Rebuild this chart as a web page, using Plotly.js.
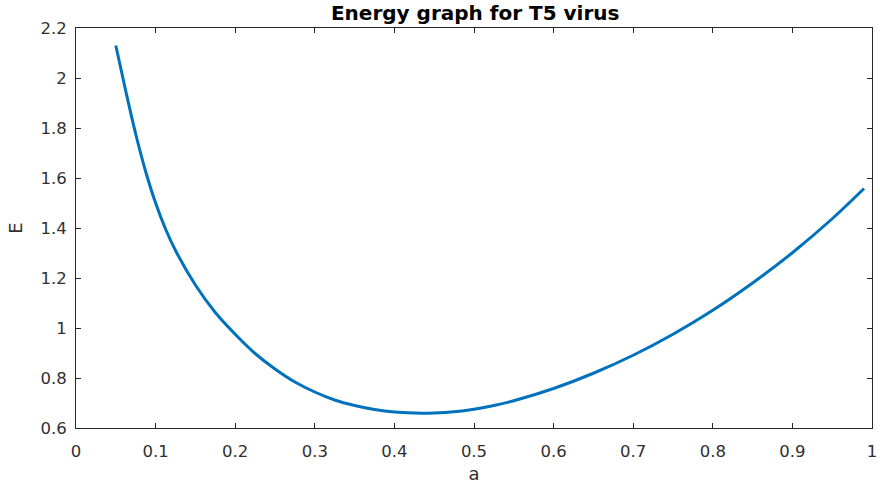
<!DOCTYPE html>
<html>
<head>
<meta charset="utf-8">
<script src="https://cdn.plot.ly/plotly-3.0.1.min.js"></script>
<style>html,body{margin:0;padding:0;background:#fff;}#chart{width:880px;height:488px;}</style>
</head>
<body>
<div id="chart"></div>
<script>
const aValues = [0.05, 0.0625, 0.075, 0.0875, 0.1, 0.1125, 0.125, 0.15, 0.175, 0.2, 0.225, 0.25, 0.275, 0.3, 0.325, 0.35, 0.375, 0.4, 0.435, 0.45, 0.475, 0.5, 0.525, 0.55, 0.6, 0.65, 0.7, 0.75, 0.8, 0.85, 0.9, 0.95, 0.99];
const eValues = [2.13, 1.948, 1.776, 1.626, 1.50, 1.396, 1.31, 1.172, 1.062, 0.975, 0.898, 0.836, 0.784, 0.744, 0.712, 0.690, 0.674, 0.664, 0.659, 0.660, 0.665, 0.675, 0.690, 0.709, 0.758, 0.819, 0.891, 0.975, 1.071, 1.18, 1.301, 1.437, 1.558];
const xTicks = [0, 0.1, 0.2, 0.3, 0.4, 0.5, 0.6, 0.7, 0.8, 0.9, 1];
const xTickLabels = ['0', '0.1', '0.2', '0.3', '0.4', '0.5', '0.6', '0.7', '0.8', '0.9', '1'];
const yTicks = [0.6, 0.8, 1, 1.2, 1.4, 1.6, 1.8, 2, 2.2];
const yTickLabels = ['0.6', '0.8', '1', '1.2', '1.4', '1.6', '1.8', '2', '2.2'];

const axisCommon = {
  showline: true, mirror: 'ticks', linecolor: '#262626', linewidth: 1,
  ticks: 'inside', ticklen: 5, tickcolor: '#262626', tickwidth: 1,
  showgrid: false, zeroline: false, tickmode: 'array',
  tickfont: {family: 'DejaVu Sans', size: 16.5, color: '#303030'}
};

const data = [{
  x: aValues, y: eValues, type: 'scatter', mode: 'lines',
  line: {color: '#0072BD', width: 3, shape: 'spline', smoothing: 1},
  hoverinfo: 'none'
}];

const layout = {
  width: 880, height: 488,
  margin: {l: 76, r: 8, t: 28, b: 60},
  paper_bgcolor: '#fff', plot_bgcolor: '#fff',
  showlegend: false,
  title: {text: '<b>Energy graph for T5 virus</b>', x: 0.54, xanchor: 'center', y: 0.974, yanchor: 'middle', yref: 'container',
          font: {family: 'DejaVu Sans', size: 20, color: '#000'}},
  xaxis: Object.assign({}, axisCommon, {range: [0, 1], tickvals: xTicks, ticktext: xTickLabels, ticklabelstandoff: 8,
          title: {text: 'a', font: {family: 'DejaVu Sans', size: 18, color: '#303030'}, standoff: 7}}),
  yaxis: Object.assign({}, axisCommon, {range: [0.6, 2.2], tickvals: yTicks, ticktext: yTickLabels, ticklabelstandoff: 5,
          title: {text: 'E', font: {family: 'DejaVu Sans', size: 18, color: '#303030'}, standoff: 13}})
};

Plotly.newPlot('chart', data, layout, {staticPlot: true, displayModeBar: false});
</script>
</body>
</html>
